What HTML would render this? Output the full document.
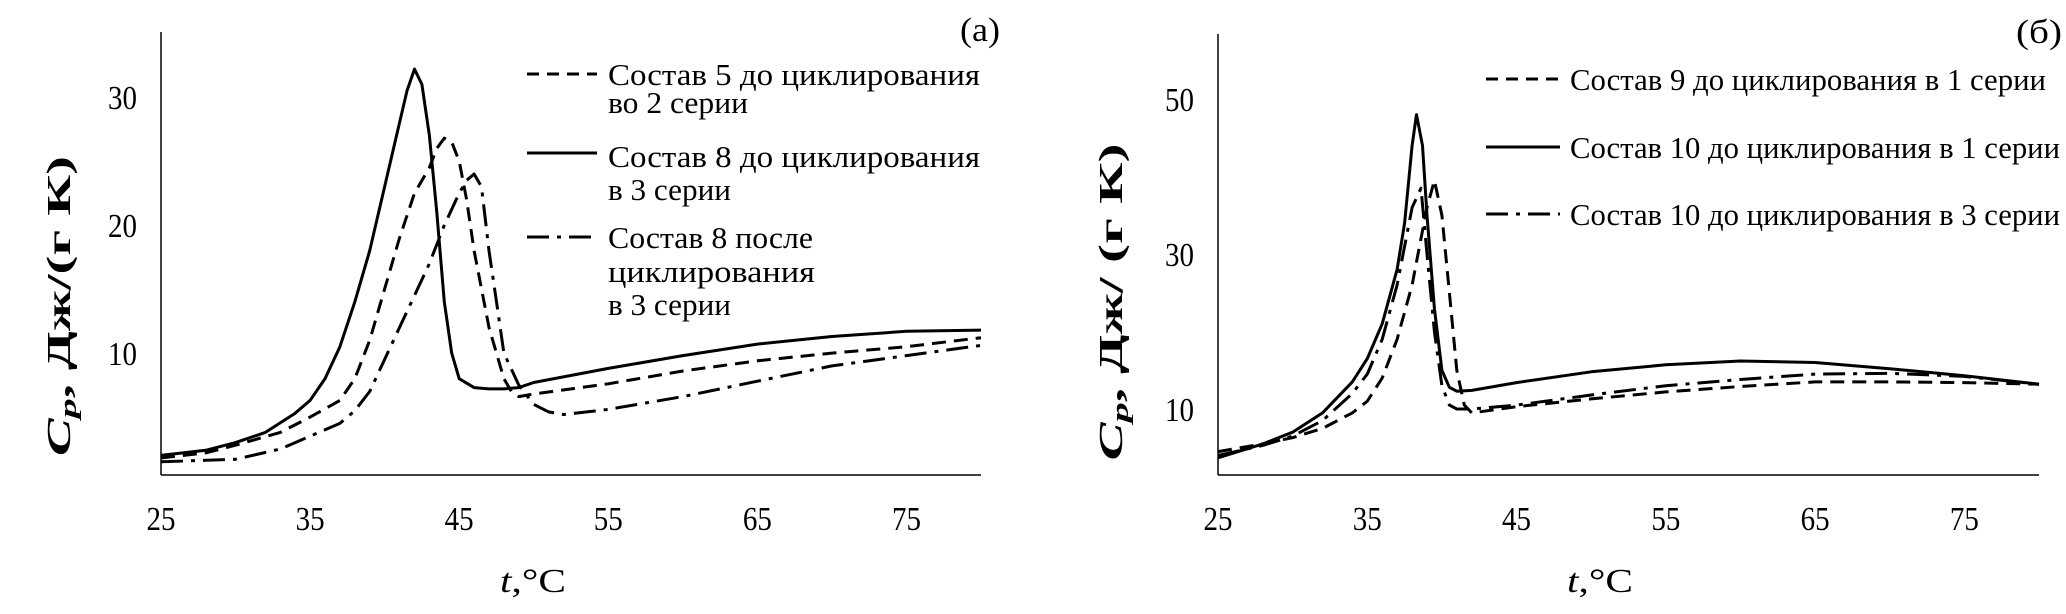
<!DOCTYPE html>
<html><head><meta charset="utf-8"><style>
html,body{margin:0;padding:0;background:#fff}
svg{display:block;font-family:"Liberation Serif",serif}
</style></head><body>
<svg width="2066" height="614" viewBox="0 0 2066 614" xmlns="http://www.w3.org/2000/svg" id="root">
<g id="chartA"></g>
<g id="chartB"></g>
</svg>
<script>
// ---- Chart (a) data ----
const xTicksA = [25,35,45,55,65,75];
const yTicksA = [10,20,30];
const a_s5_t = [25,28,30,33,35,37,38,39,40,41,42,43,43.5,44,44.5,45,45.5,46,47,48,48.5,49,50,55,60,65,70,75,80];
const a_s5_v = [1.8,2.2,2.8,3.8,5,6.3,8,11,15,19,22.5,24.5,26,26.8,26.5,25,22,18,12,8,7,6.6,6.8,7.6,8.6,9.4,10,10.5,11.2];
const a_s8_t = [25,28,30,32,34,35,36,37,38,39,40,41,41.5,42,42.5,43,43.5,44,44.5,45,46,47,48,49,50,55,60,65,70,75,80];
const a_s8_v = [2.0,2.4,3.0,3.8,5.3,6.3,8,10.5,14,18,23,28,30.5,32.2,31,27,21,14,10,8,7.3,7.2,7.2,7.3,7.7,8.8,9.8,10.7,11.3,11.7,11.8];
const a_s8p_t = [25,30,33,35,37,38,39,40,41,42,43,44,45,45.5,46,46.5,47,47.5,48,49,50,51,52,55,60,65,70,75,80];
const a_s8p_v = [1.5,1.7,2.5,3.5,4.5,5.5,7,9.5,12,14.5,17,20,22.5,23.5,24,23,18,14,10,7.5,6,5.4,5.2,5.6,6.6,7.8,9,9.8,10.6];
// ---- Chart (b) data ----
const xTicksB = [25,35,45,55,65,75];
const yTicksB = [10,30,50];
const b_s9_t = [25,28,30,32,34,35,36,37,38,38.5,39,39.5,40,40.5,41,41.5,42,45,50,55,60,65,70,75,80];
const b_s9_v = [4.5,5.5,6.3,7.5,9.5,11,14,19,26,31,36,39.5,35,25,15,10.5,9.5,10.3,11.3,12.2,12.9,13.5,13.5,13.4,13.2];
const b_s10_t = [25,28,30,32,34,35,36,37,37.5,38,38.3,38.7,39,39.5,40,40.5,41,42,45,50,55,60,65,70,75,80];
const b_s10_v = [3.7,5.5,7,9.5,13.5,16.5,21,28,34,44,48,44,35,23,15,12.8,12.3,12.4,13.4,14.8,15.7,16.2,16,15.2,14.3,13.2];
const b_s10c_t = [25,28,30,32,34,35,36,37,37.5,38,38.6,39,39.5,40,40.5,41,42,45,50,55,60,65,70,75,80];
const b_s10c_v = [4,5.3,6.5,8.5,12,14.5,19,26,31,36,38.5,30,20,13,10.5,10,10,10.5,11.8,13,13.8,14.5,14.6,14.2,13.2];

const NS="http://www.w3.org/2000/svg";
function mk(parent,tag,attrs,text){const e=document.createElementNS(NS,tag);for(const k in attrs)e.setAttribute(k,attrs[k]);if(text!==undefined)e.textContent=text;parent.appendChild(e);return e;}

function drawChart(g, cfg){
  const xs=t=>cfg.x0+(t-cfg.tmin)*(cfg.x1-cfg.x0)/(cfg.tmax-cfg.tmin);
  const ys=v=>cfg.y0-(v-cfg.vmin)*(cfg.y0-cfg.y1)/(cfg.vmax-cfg.vmin);
  let e=mk(g,'line',{x1:cfg.x0,y1:cfg.y1,x2:cfg.x0,y2:cfg.y0,stroke:'#000','stroke-width':1.5});
  
  
  e=mk(g,'line',{x1:cfg.x0,y1:cfg.y0,x2:cfg.x1,y2:cfg.y0,stroke:'#000','stroke-width':1.5});
  
  
  cfg.xt.forEach(t=>{
    const el=mk(g,'text',{x:xs(t),y:530,'font-size':34,'text-anchor':'middle',textLength:29,lengthAdjust:'spacingAndGlyphs'},String(t));
    
    
  });
  cfg.yt.forEach(v=>{
    const el=mk(g,'text',{x:cfg.x0-24,y:ys(v)+12,'font-size':34,'text-anchor':'end',textLength:29,lengthAdjust:'spacingAndGlyphs'},String(v));
    
    
  });
  cfg.series.forEach(s=>{
    const d=s.t.map((t,i)=>(i?'L':'M')+xs(t).toFixed(1)+' '+ys(s.v[i]).toFixed(1)).join(' ');
    const p=mk(g,'path',{d:d,fill:'none',stroke:'#000','stroke-width':3,'stroke-dasharray':s.dash,'stroke-linejoin':'round'});
    
    
  });
}

const gA=document.getElementById('chartA'), gB=document.getElementById('chartB');
drawChart(gA,{x0:161,x1:981,y0:475,y1:32,tmin:25,tmax:80,vmin:0.47,vmax:35.1,xt:xTicksA,yt:yTicksA,series:[
 {t:a_s5_t,v:a_s5_v,dash:'14 8',name:'line-sostav5-before'},
 {t:a_s8_t,v:a_s8_v,dash:'none',name:'line-sostav8-before'},
 {t:a_s8p_t,v:a_s8p_v,dash:'22 8 4 8',name:'line-sostav8-after'}]});
drawChart(gB,{x0:1218,x1:2039,y0:475,y1:34,tmin:25,tmax:80,vmin:1.48,vmax:58.4,xt:xTicksB,yt:yTicksB,series:[
 {t:b_s9_t,v:b_s9_v,dash:'14 8',name:'line-sostav9-series1'},
 {t:b_s10_t,v:b_s10_v,dash:'none',name:'line-sostav10-series1'},
 {t:b_s10c_t,v:b_s10c_v,dash:'22 8 4 8',name:'line-sostav10-series3'}]});
</script>
<svg width="2066" height="614" style="position:absolute;left:0;top:0" xmlns="http://www.w3.org/2000/svg">
 <g font-family="Liberation Serif, serif" font-size="31">
  <text x="960" y="41" font-size="34" textLength="40" lengthAdjust="spacingAndGlyphs">(a)</text>
  <g>
   <line x1="527" y1="74" x2="597" y2="74" stroke="#000" stroke-width="3" stroke-dasharray="12 8"/>
   <text x="608" y="85" textLength="372" lengthAdjust="spacingAndGlyphs">Состав 5 до циклирования</text>
   <text x="608" y="113" textLength="140" lengthAdjust="spacingAndGlyphs">во 2 серии</text>
   <line x1="527" y1="153" x2="597" y2="153" stroke="#000" stroke-width="3"/>
   <text x="608" y="167" textLength="372" lengthAdjust="spacingAndGlyphs">Состав 8 до циклирования</text>
   <text x="608" y="200" textLength="123" lengthAdjust="spacingAndGlyphs">в 3 серии</text>
   <line x1="527" y1="237" x2="597" y2="237" stroke="#000" stroke-width="3" stroke-dasharray="22 8 4 8"/>
   <text x="608" y="248" textLength="205" lengthAdjust="spacingAndGlyphs">Состав 8 после</text>
   <text x="608" y="282" textLength="207" lengthAdjust="spacingAndGlyphs">циклирования</text>
   <text x="608" y="315" textLength="123" lengthAdjust="spacingAndGlyphs">в 3 серии</text>
  </g>
  <text transform="translate(70,306) rotate(-90)" text-anchor="middle" font-size="34" font-weight="bold" textLength="300" lengthAdjust="spacingAndGlyphs"><tspan font-style="italic">C</tspan><tspan font-style="italic" font-size="24" dy="6">p</tspan><tspan dy="-6">, Дж/(г К)</tspan></text>
  <text x="533" y="592" text-anchor="middle" font-size="34" textLength="66" lengthAdjust="spacingAndGlyphs"><tspan font-style="italic">t</tspan>,°C</text>

  <text x="2016" y="43" font-size="34" textLength="46" lengthAdjust="spacingAndGlyphs">(б)</text>
  <g>
   <line x1="1486" y1="79" x2="1560" y2="79" stroke="#000" stroke-width="3" stroke-dasharray="12 8"/>
   <text x="1570" y="90" textLength="476" lengthAdjust="spacingAndGlyphs">Состав 9 до циклирования в 1 серии</text>
   <line x1="1486" y1="147" x2="1560" y2="147" stroke="#000" stroke-width="3"/>
   <text x="1570" y="158" textLength="490" lengthAdjust="spacingAndGlyphs">Состав 10 до циклирования в 1 серии</text>
   <line x1="1486" y1="214" x2="1560" y2="214" stroke="#000" stroke-width="3" stroke-dasharray="22 8 4 8"/>
   <text x="1570" y="225" textLength="490" lengthAdjust="spacingAndGlyphs">Состав 10 до циклирования в 3 серии</text>
  </g>
  <text transform="translate(1122,302) rotate(-90)" text-anchor="middle" font-size="34" font-weight="bold" textLength="317" lengthAdjust="spacingAndGlyphs"><tspan font-style="italic">C</tspan><tspan font-style="italic" font-size="24" dy="6">p</tspan><tspan dy="-6">, Дж/ (г К)</tspan></text>
  <text x="1600" y="592" text-anchor="middle" font-size="34" textLength="66" lengthAdjust="spacingAndGlyphs"><tspan font-style="italic">t</tspan>,°C</text>
 </g>
</svg>
</body></html>
